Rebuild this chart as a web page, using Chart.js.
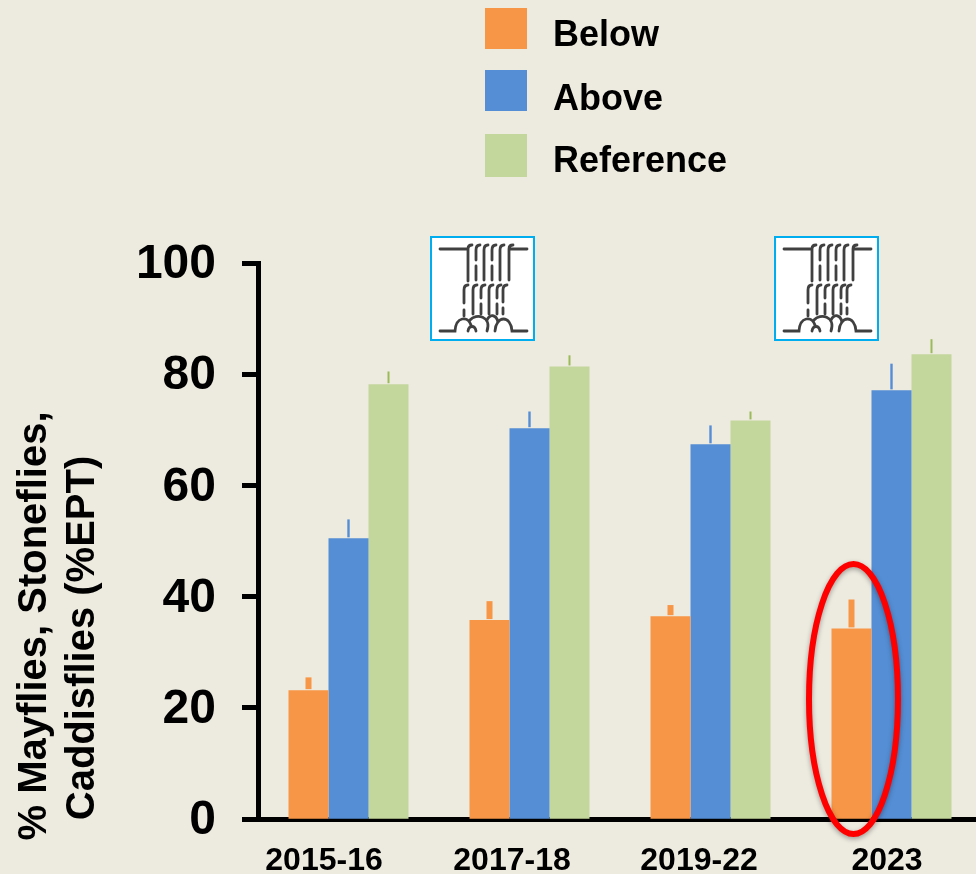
<!DOCTYPE html>
<html>
<head>
<meta charset="utf-8">
<title>% EPT by period</title>
<script src="https://cdn.jsdelivr.net/npm/chart.js@4"></script>
<style>
  html, body { margin: 0; width: 976px; height: 874px; overflow: hidden; background: #EDEBE0; }
  #wrap { position: relative; width: 976px; height: 874px; overflow: hidden; }
  #wrap canvas { position: absolute; left: 0; top: 0; }
  #legend { position: absolute; left: 485px; top: 0; font: bold 36px "Liberation Sans", Arial, sans-serif; color: #000; }
  .row { position: absolute; left: 0; white-space: nowrap; }
  .swatch { position: absolute; left: 0; top: 0; width: 42px; }
  .row span { position: absolute; left: 68px; line-height: 50px; }
  .icon { position: absolute; top: 236px; width: 105px; height: 105px; }
</style>
</head>
<body>
<div id="wrap">
  <canvas id="barChart" width="984" height="874"></canvas>
  <div id="legend"></div>
  <svg class="icon" style="left:430px" viewBox="0 0 105 105"><use href="#falls"/></svg>
  <svg class="icon" style="left:773.5px" viewBox="0 0 105 105">
    <g id="falls">
      <rect x="1" y="1" width="103" height="103" fill="#fff" stroke="#00AEEF" stroke-width="2"/>
      <g fill="none" stroke="#404040" stroke-width="2.8" stroke-linecap="round">
        <path d="M10 13H38M38 45V13C38 10 40 9 42 9"/>
        <path d="M50 9C47 9 46 11 46 14V24M46 30V44"/>
        <path d="M58 9C55 9 54 11 54 14V44"/>
        <path d="M66 9C63 9 62 11 62 14V24M62 30V44"/>
        <path d="M74 9C71 9 70 11 70 14V44"/>
        <path d="M97 13H79M79 44V13C79 10 81 9 83 9"/>
        <path d="M38 49C35 49 34 51 34 54V67"/>
        <path d="M47 49C44 49 43 51 43 54V78"/>
        <path d="M55 49C52 49 51 51 51 54V62M51 68V78"/>
        <path d="M63 49C60 49 59 51 59 54V78"/>
        <path d="M71 49C68 49 67 51 67 54V62M67 68V78"/>
        <path d="M77 49C74 49 73 51 73 54V66M73 72V78"/>
        <path d="M34 74V80"/>
        <path d="M10 95H25C26 80 38 80 41 89"/>
        <path d="M38 95C39 89 45 89 46 95"/>
        <path d="M40 84C46 77 62 80 57 95"/>
        <path d="M57 84C60 78 66 78 68 86"/>
        <path d="M65 95C66 79 81 79 82 95H97"/>
      </g>
    </g>
  </svg>
</div>
<script>
const categories = ['2015-16', '2017-18', '2019-22', '2023'];
const seriesNames = ['Below', 'Above', 'Reference'];
const seriesColors = ['#F79646', '#558ED5', '#C3D69B'];
const whiskerColors = ['#F79646', '#558ED5', '#9BBB59'];

const below = [23.2, 35.8, 36.5, 34.3];
const above = [50.5, 70.3, 67.4, 77.1];
const reference = [78.2, 81.4, 71.7, 83.6];

// top of each error whisker
const belowTop = [25.5, 39.2, 38.5, 39.5];
const aboveTop = [53.9, 73.3, 70.8, 81.9];
const referenceTop = [80.5, 83.4, 73.3, 86.3];

const yTicks = [0, 20, 40, 60, 80, 100];
const yTitleLines = ['% Mayflies, Stoneflies,', 'Caddisflies (%EPT)'];

const whiskerTops = [belowTop, aboveTop, referenceTop];
const whiskerWidths = [6, 2.4, 2];
// the x labels in the picture do not sit under their groups
const labelCentres = [324, 512, 699, 887];

const FONT = '"Liberation Sans", Arial, sans-serif';

// legend
const legendEl = document.getElementById('legend');
const legendTops = [8, 70, 134];
const legendHeights = [41, 41, 43];
const legendTextTops = [1, 3, 1];
seriesNames.forEach((name, i) => {
  const row = document.createElement('div');
  row.className = 'row';
  row.style.top = legendTops[i] + 'px';
  const swatch = document.createElement('div');
  swatch.className = 'swatch';
  swatch.style.background = seriesColors[i];
  swatch.style.height = legendHeights[i] + 'px';
  const text = document.createElement('span');
  text.textContent = name;
  text.style.top = legendTextTops[i] + 'px';
  row.appendChild(swatch);
  row.appendChild(text);
  legendEl.appendChild(row);
});

const whiskers = {
  id: 'whiskers',
  afterDatasetsDraw(chart) {
    const ctx = chart.ctx;
    const y = chart.scales.y;
    whiskerTops.forEach((tops, d) => {
      chart.getDatasetMeta(d).data.forEach((bar, i) => {
        ctx.fillStyle = whiskerColors[d];
        const w = whiskerWidths[d];
        const top = y.getPixelForValue(tops[i]);
        const base = y.getPixelForValue(chart.data.datasets[d].data[i]);
        // small gap above the bar, as in the picture
        ctx.fillRect(bar.x - w / 2, top, w, base - top - 1);
      });
    });
  }
};

const textAndRing = {
  id: 'textAndRing',
  afterDraw(chart) {
    const ctx = chart.ctx;
    const { x, y } = chart.scales;
    ctx.save();
    ctx.fillStyle = '#000';

    // x labels
    ctx.font = 'bold 32px ' + FONT;
    ctx.textAlign = 'center';
    ctx.textBaseline = 'alphabetic';
    categories.forEach((c, i) => ctx.fillText(c, labelCentres[i], 870));

    // y title, two rotated lines
    ctx.font = 'bold 40px ' + FONT;
    [[46, 626], [94, 638]].forEach((pos, i) => {
      ctx.save();
      ctx.translate(pos[0], pos[1]);
      ctx.rotate(-Math.PI / 2);
      ctx.fillText(yTitleLines[i], 0, 0);
      ctx.restore();
    });

    // red ring around the 2023 Below bar
    ctx.strokeStyle = '#FF0000';
    ctx.lineWidth = 6;
    ctx.shadowColor = 'rgba(0,0,0,0.35)';
    ctx.shadowBlur = 5;
    ctx.shadowOffsetY = 2;
    ctx.beginPath();
    ctx.ellipse(x.getPixelForValue(3) - 38, y.getPixelForValue(21.6), 44.5, 135, 0, 0, Math.PI * 2);
    ctx.stroke();
    ctx.restore();
  }
};

new Chart(document.getElementById('barChart'), {
  type: 'bar',
  data: {
    labels: categories,
    datasets: [
      { label: seriesNames[0], data: below, backgroundColor: seriesColors[0] },
      { label: seriesNames[1], data: above, backgroundColor: seriesColors[1] },
      { label: seriesNames[2], data: reference, backgroundColor: seriesColors[2] }
    ]
  },
  options: {
    responsive: false,
    animation: false,
    devicePixelRatio: 1,
    layout: { padding: { top: 263, right: 2, left: 0, bottom: 0 } },
    datasets: { bar: { barPercentage: 1, categoryPercentage: 0.663 } },
    plugins: { legend: { display: false }, tooltip: { enabled: false } },
    scales: {
      x: {
        grid: { display: false, drawTicks: false },
        border: { color: '#000', width: 5 },
        ticks: { display: false },
        afterFit: s => { s.height = 54; }
      },
      y: {
        min: 0,
        max: 100,
        afterBuildTicks: s => { s.ticks = yTicks.map(v => ({ value: v })); },
        grid: { drawOnChartArea: false, drawTicks: true, tickLength: 16, tickWidth: 5, color: '#000' },
        border: { color: '#000', width: 5 },
        ticks: { color: '#000', padding: 26, labelOffset: 2, font: { family: FONT, size: 48, weight: 'bold' } },
        afterFit: s => { s.width = 258; }
      }
    }
  },
  plugins: [whiskers, textAndRing]
});
</script>
</body>
</html>
